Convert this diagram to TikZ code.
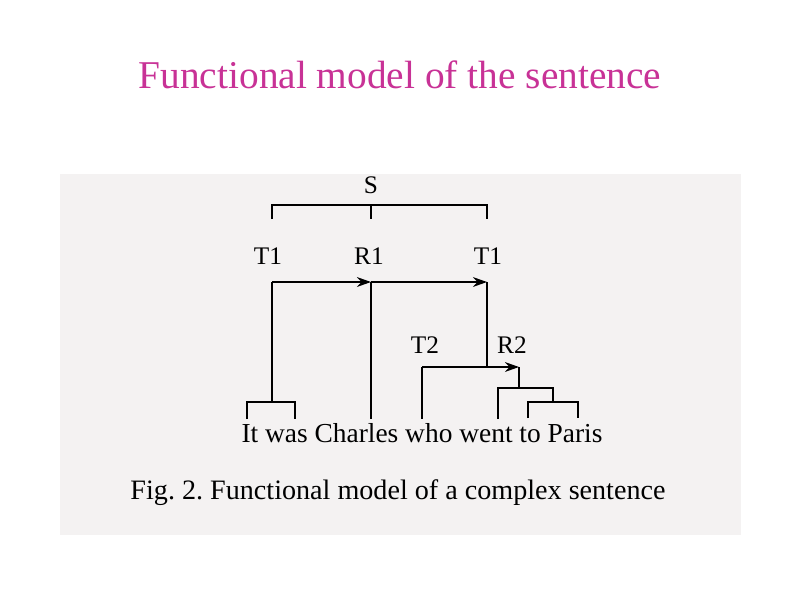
\documentclass[tikz,border=0pt]{standalone}
\usepackage{fontspec}
\setmainfont{Liberation Serif}
\usepackage{xcolor}
\usepackage{tikz}
\usetikzlibrary{calc,arrows.meta}
\definecolor{titlepink}{RGB}{200,50,150}
\definecolor{scangrey}{RGB}{244,242,242}
\frenchspacing

\begin{document}
\begin{tikzpicture}[x=0.025cm,y=-0.025cm,>={Stealth[length=10pt,width=7pt]},
			lab/.style={inner sep=0pt,font=\fontsize{18}{20}\selectfont},
			thin/.style={line width=1.3pt},
			arr/.style={->,line width=1.3pt},
			]
			\useasboundingbox (0,0) rectangle (800,600);
			% scanned page
			\fill[scangrey] (60,174) rectangle (741,535);
			
			\node[titlepink,font=\fontsize{28}{30}\selectfont] (title) at (400,75) {Functional model of the sentence};
			
			% labels
			\node[lab] (S) at (371,185) {S};
			\node[lab] (T1l) at (268,256) {T1};
			\node[lab] (R1) at (369,256) {R1};
			\node[lab] (T1r) at (488,256) {T1};
			\node[lab] (T2) at (425,345) {T2};
			\node[lab] (R2) at (512,345) {R2};
			\node[inner sep=0pt,font=\fontsize{19.5}{21}\selectfont] (sent) at (422,433) {It was Charles who went to Paris};
			\node[inner sep=0pt,font=\fontsize{20}{22}\selectfont] (cap) at (398,493) {Fig. 2. Functional model of a complex sentence};
			
			% bracket under S
			\coordinate (sa) at (272,205);
			\coordinate (sb) at (371,205);
			\coordinate (sc) at (487,205);
			\coordinate (sa1) at (272,219);
			\coordinate (sb1) at (371,219);
			\coordinate (sc1) at (487,219);
			\draw[thin] (sa1)--(sa)--(sc)--(sc1);
			\draw[thin] (sb)--(sb1);
			
			% first level: T1 -> R1 -> T1
			\coordinate (a) at (272,282);
			\coordinate (b) at (371,282);
			\coordinate (c) at (487,282);
			\coordinate (c1) at (487,367);
			\draw[arr] (a)--(b);
			\draw[arr] (b)--(c);
			\draw[thin] (c)--(c1);
			
			% words It, was
			\coordinate (w1) at (247,402);
			\coordinate (w2) at (295,402);
			\coordinate (w12) at (272,402);
			\coordinate (w1b) at (247,419);
			\coordinate (w2b) at (295,419);
			\draw[thin] (a)--(w12);
			\draw[thin] (w1b)--(w1)--(w2)--(w2b);
			
			% Charles
			\coordinate (w3b) at (371,419);
			\draw[thin] (b)--(w3b);
			
			% second level: T2 -> R2
			\coordinate (d) at (422,367);
			\coordinate (e) at (519,367);
			\coordinate (w4b) at (422,419);
			\draw[arr] (d)--(e);
			\draw[thin] (d)--(w4b);
			
			% went, to, Paris
			\coordinate (e1) at (519,388);
			\coordinate (f) at (498,388);
			\coordinate (g) at (553,388);
			\coordinate (w5b) at (498,419);
			\coordinate (g1) at (553,402);
			\coordinate (h) at (528,402);
			\coordinate (k) at (578,402);
			\coordinate (w6b) at (528,418);
			\coordinate (w7b) at (578,418);
			\draw[thin] (e)--(e1);
			\draw[thin] (w5b)--(f)--(g)--(g1);
			\draw[thin] (w6b)--(h)--(k)--(w7b);
		\end{tikzpicture}
\end{document}
